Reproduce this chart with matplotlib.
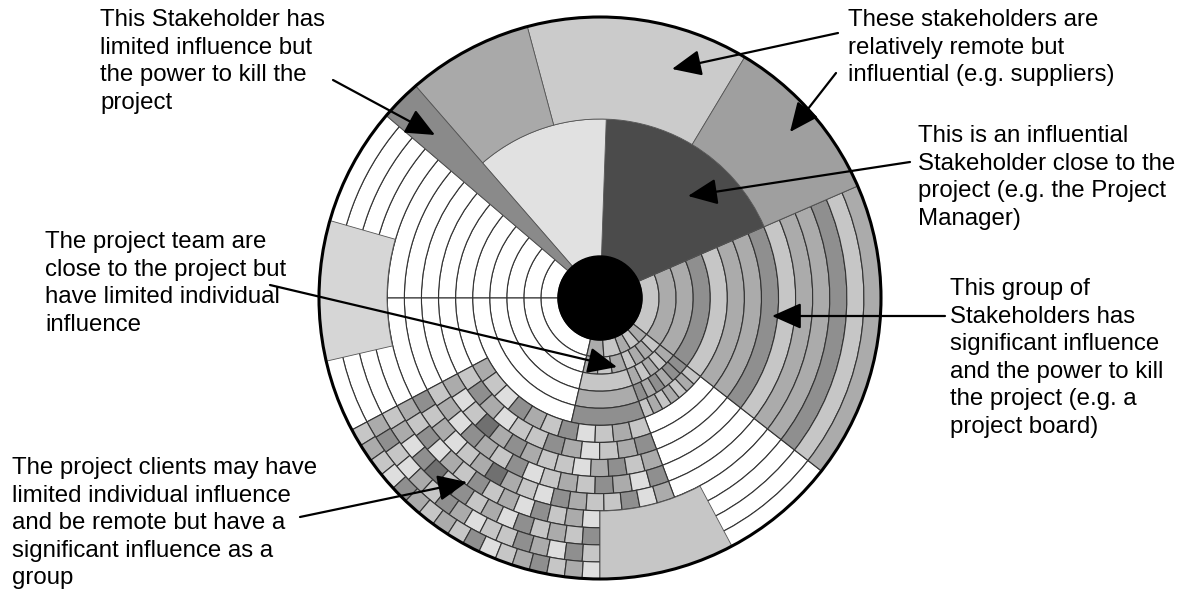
import numpy as np
import matplotlib.pyplot as plt
from matplotlib.patches import Wedge, Circle

W, H = 1182, 589
cx, cy = 600, 298            # centre of the circle, picture pixels (y down)
hub_r, outer_r = 42, 281
n_rings = 14
r_edges = np.linspace(hub_r, outer_r, n_rings + 1)

shade = {'0': 'white', '1': '#dedede', '2': '#c6c6c6', '3': '#ababab',
         '4': '#8f8f8f', '5': '#707070'}

# solid sectors (angles in degrees, ccw from east)
solid_names = ['manager', 'sponsor', 'suppliers', 'outer_left', 'outer_right',
               'left_block', 'bottom_block', 'killer']
solid_start = [23.5, 88, 59, 105, 23.5, 164, -90, 131]
solid_end = [88, 131, 105, 131, 59, 193, -62, 139.5]
solid_rin = [0, 0, 179, 179, 179, 213, 213, 0]
solid_rout = [179, 179, 281, 281, 281, 281, 281, 281]
solid_color = ['#4b4b4b', '#e1e1e1', '#cbcbcb', '#a9a9a9', '#9f9f9f',
               '#d6d6d6', '#c6c6c6', '#8a8a8a']

# ringed sectors: start, end, first ring, per-ring cell colours
stripe_cols = ['2', '3', '3', '4', '2', '3', '3', '4', '2', '3', '3', '4', '2', '3']
stripe_ext = ['323', '2332', '32323', '434344', '2323232']
team_cols = ['32', '323', '2', '3', '4']
mosaic_inner = ['32143241232',
                '243122431234',
                '31253432213423',
                '231432412324314',
                '42312353214322413']
mosaic_outer = ['32413242314231',
                '231452423142324',
                '3421324312243142',
                '23214323241234231']
white14 = ['0'] * 14
white5 = ['0'] * 5
white9 = ['0'] * 9

ring_start = [139.5, 180, 180, -69.5, -38, -69.5, -103, -152, -152]
ring_end = [180, 257, 208, -38, 23.5, -38, -69.5, -69.5, -90]
ring_first = [0, 0, 5, 5, 0, 0, 0, 5, 10]
ring_cells = [white14, white5, white9, white9, stripe_cols, stripe_ext,
              team_cols, mosaic_inner, mosaic_outer]

fig = plt.figure(figsize=(W / 100, H / 100), dpi=100)
ax = fig.add_axes([0, 0, 1, 1])
ax.set_xlim(0, W)
ax.set_ylim(0, H)
ax.axis('off')

c = (cx, H - cy)

def px(x, y):
    return (x, H - y)

# ringed sectors
for a0, a1, first, rings in zip(ring_start, ring_end, ring_first, ring_cells):
    for k, cells in enumerate(rings):
        i = first + k
        r0, r1 = r_edges[i], r_edges[i + 1]
        step = (a1 - a0) / len(cells)
        for j, code in enumerate(cells):
            ax.add_patch(Wedge(c, r1, a0 + j * step, a0 + (j + 1) * step,
                               width=r1 - r0, facecolor=shade[code],
                               edgecolor='#333333', linewidth=0.8))

# solid sectors
for a0, a1, ri, ro, col in zip(solid_start, solid_end, solid_rin, solid_rout, solid_color):
    ax.add_patch(Wedge(c, ro, a0, a1, width=ro - ri, facecolor=col,
                       edgecolor='#555555', linewidth=0.6))

ax.add_patch(Circle(c, hub_r, facecolor='black', edgecolor='black'))
ax.add_patch(Circle(c, outer_r, fill=False, edgecolor='black', linewidth=2.2))

# annotations
labels = [
    "This Stakeholder has\nlimited influence but\nthe power to kill the\nproject",
    "These stakeholders are\nrelatively remote but\ninfluential (e.g. suppliers)",
    "This is an influential\nStakeholder close to the\nproject (e.g. the Project\nManager)",
    "The project team are\nclose to the project but\nhave limited individual\ninfluence",
    "This group of\nStakeholders has\nsignificant influence\nand the power to kill\nthe project (e.g. a\nproject board)",
    "The project clients may have\nlimited individual influence\nand be remote but have a\nsignificant influence as a\ngroup",
]
label_pos = [(100, 9), (848, 9), (918, 125), (45, 231), (950, 278), (12, 457)]

for txt, (x, y) in zip(labels, label_pos):
    ax.text(*px(x, y), txt, ha='left', va='top', fontsize=17.3,
            family=['Liberation Sans', 'DejaVu Sans'], linespacing=1.33)

arrow_from = [(333, 80), (838, 33), (836, 73), (910, 162), (945, 316), (270, 285), (300, 517)]
arrow_to = [(435, 135), (672, 69), (790, 132), (688, 196), (772, 316), (617, 367), (467, 482)]

for s, t in zip(arrow_from, arrow_to):
    ax.annotate('', xy=px(*t), xytext=px(*s),
                arrowprops=dict(arrowstyle='-|>,head_length=0.9,head_width=0.4',
                                mutation_scale=20, color='black', lw=1.6,
                                shrinkA=0, shrinkB=0))

fig.savefig('out.png', dpi=100)
